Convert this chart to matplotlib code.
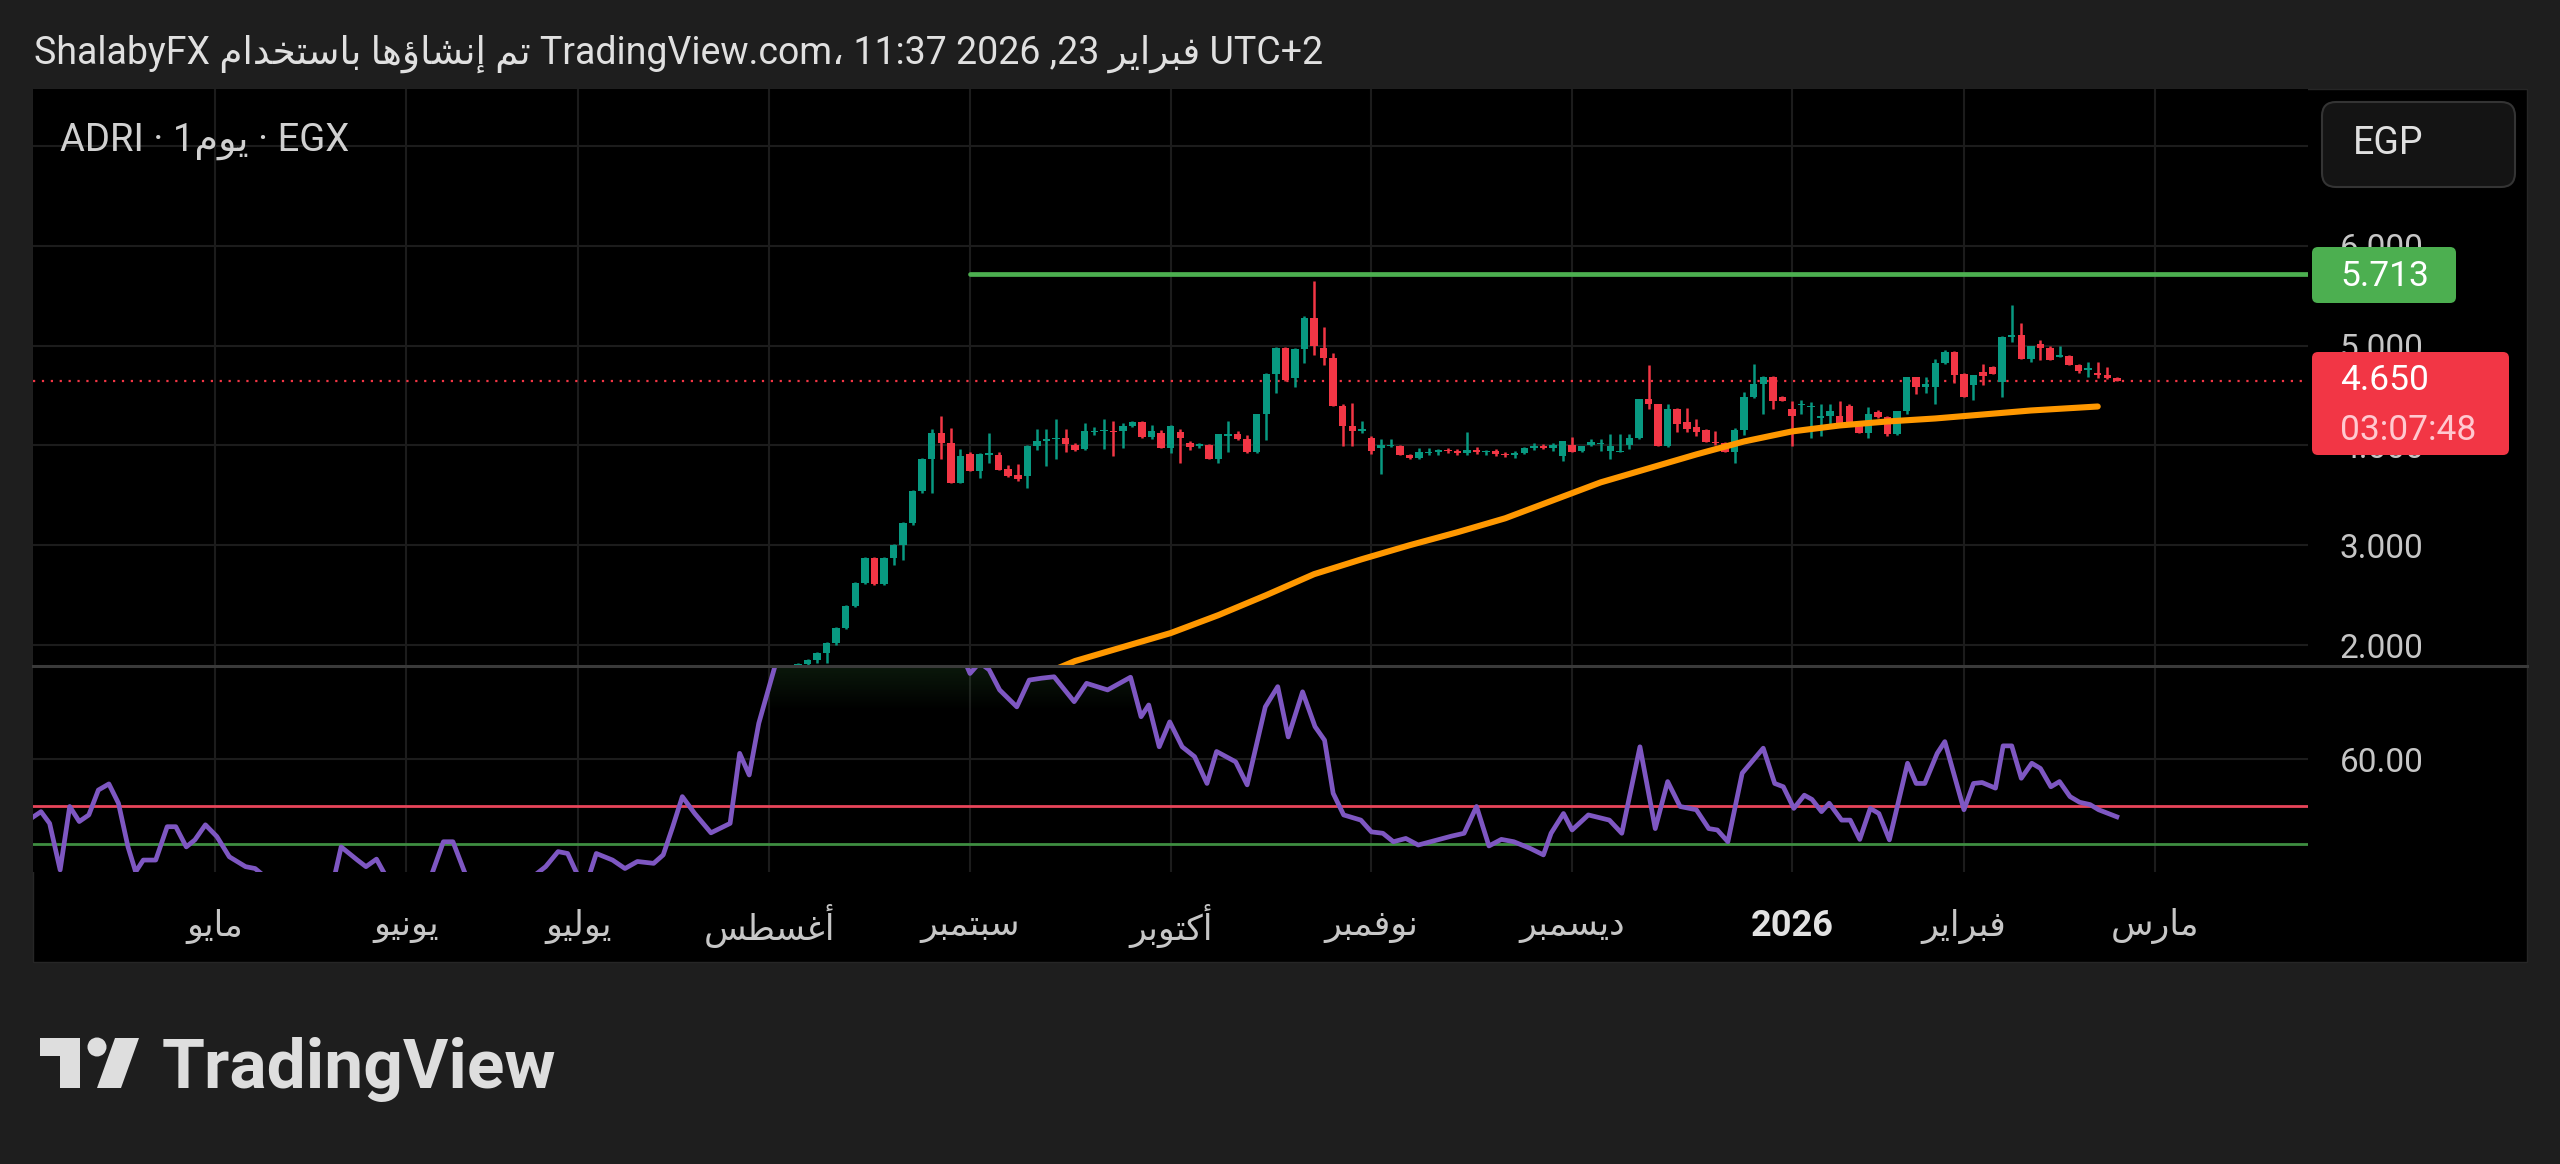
"""ADRI daily chart (EGX) with RSI pane, TradingView dark style."""

import matplotlib

matplotlib.use("Agg")
import matplotlib.pyplot as plt
import numpy as np
from matplotlib.colors import to_rgb
from matplotlib.lines import Line2D
from matplotlib.patches import Circle, FancyBboxPatch, Polygon, Rectangle
from matplotlib.transforms import Affine2D

W, H = 2560, 1164

# x axis is the bar index: 0 = first EGX session of May 2025
month_idx = [0, 20, 38, 58, 79, 100, 121, 142, 165, 183, 203]
month_names = ["مايو", "يونيو", "يوليو", "أغسطس", "سبتمبر", "أكتوبر",
               "نوفمبر", "ديسمبر", "2026", "فبراير", "مارس"]

candle_first_idx = 60
opens = [1.70, 1.75, 1.81, 1.85, 1.92, 2.02, 2.17, 2.39, 2.62, 2.87,
         2.61, 2.87, 3.00, 3.22, 3.54, 3.86, 4.12, 4.02, 3.62, 3.91,
         3.74, 3.90, 3.90, 3.76, 3.70, 3.69, 3.99, 4.04, 4.06, 4.07,
         4.00, 3.96, 4.13, 4.14, 4.14, 4.14, 4.19, 4.23, 4.08, 4.12,
         3.97, 4.13, 4.02, 3.99, 4.00, 3.86, 4.09, 4.11, 4.06, 3.93,
         4.31, 4.72, 4.98, 4.68, 4.97, 5.28, 4.98, 4.88, 4.39, 4.19,
         4.14, 4.07, 3.97, 3.99, 3.99, 3.90, 3.87, 3.92, 3.93, 3.95,
         3.94, 3.92, 3.95, 3.93, 3.94, 3.91, 3.90, 3.92, 3.97, 3.99,
         3.97, 3.89, 4.00, 3.94, 4.00, 4.01, 3.94, 3.93, 4.00, 4.07,
         4.47, 4.41, 3.99, 4.36, 4.23, 4.18, 4.15, 4.03, 4.02, 3.93,
         4.15, 4.49, 4.62, 4.69, 4.49, 4.36, 4.40, 4.38, 4.27, 4.29,
         4.29, 4.39, 4.23, 4.12, 4.33, 4.28, 4.11, 4.34, 4.69, 4.59,
         4.59, 4.83, 4.94, 4.72, 4.61, 4.74, 4.79, 4.64, 5.09, 5.11,
         4.87, 5.02, 4.98, 4.89, 4.90, 4.81, 4.76, 4.73, 4.71, 4.68]
highs = [1.76, 1.82, 1.86, 1.93, 2.03, 2.18, 2.40, 2.63, 2.88, 2.88,
         2.88, 3.01, 3.23, 3.55, 3.87, 4.16, 4.29, 4.17, 3.96, 3.93,
         3.92, 4.12, 3.93, 3.80, 3.81, 4.00, 4.16, 4.16, 4.26, 4.16,
         4.02, 4.22, 4.18, 4.26, 4.24, 4.22, 4.24, 4.24, 4.20, 4.15,
         4.20, 4.16, 4.04, 4.02, 4.01, 4.11, 4.24, 4.14, 4.10, 4.31,
         4.73, 4.99, 4.99, 4.98, 5.30, 5.65, 5.19, 4.93, 4.42, 4.43,
         4.24, 4.09, 4.06, 4.06, 4.00, 3.91, 3.97, 3.97, 3.96, 3.97,
         3.96, 4.13, 3.98, 3.95, 3.96, 3.93, 3.94, 3.98, 4.02, 4.01,
         4.02, 4.04, 4.08, 3.99, 4.06, 4.06, 4.11, 4.11, 4.11, 4.47,
         4.81, 4.42, 4.41, 4.37, 4.37, 4.26, 4.16, 4.14, 4.03, 4.17,
         4.54, 4.82, 4.70, 4.70, 4.50, 4.45, 4.46, 4.44, 4.41, 4.41,
         4.45, 4.41, 4.24, 4.38, 4.35, 4.29, 4.34, 4.69, 4.69, 4.69,
         4.87, 4.96, 4.95, 4.73, 4.71, 4.82, 4.80, 5.10, 5.41, 5.23,
         5.00, 5.06, 5.00, 5.00, 4.91, 4.82, 4.84, 4.84, 4.79, 4.69]
lows = [1.68, 1.74, 1.79, 1.82, 1.82, 2.00, 2.16, 2.38, 2.61, 2.60,
        2.60, 2.80, 2.85, 3.20, 3.52, 3.52, 3.86, 3.62, 3.62, 3.74,
        3.67, 3.82, 3.75, 3.68, 3.64, 3.57, 3.95, 3.79, 3.86, 3.93,
        3.94, 3.95, 4.10, 3.96, 3.89, 3.97, 4.18, 4.07, 4.06, 3.97,
        3.92, 3.82, 3.95, 3.97, 3.86, 3.82, 3.93, 4.05, 3.92, 3.92,
        4.05, 4.53, 4.65, 4.59, 4.83, 4.91, 4.81, 4.39, 3.99, 3.99,
        4.12, 3.91, 3.71, 3.98, 3.90, 3.86, 3.86, 3.90, 3.90, 3.92,
        3.90, 3.90, 3.91, 3.90, 3.89, 3.88, 3.87, 3.91, 3.95, 3.96,
        3.94, 3.84, 3.93, 3.93, 3.99, 3.94, 3.86, 3.93, 3.96, 4.06,
        4.36, 3.99, 3.98, 4.13, 4.13, 4.09, 4.03, 4.00, 3.93, 3.82,
        4.10, 4.48, 4.31, 4.36, 4.45, 3.99, 4.31, 4.07, 4.09, 4.18,
        4.21, 4.19, 4.12, 4.07, 4.27, 4.09, 4.10, 4.31, 4.52, 4.53,
        4.41, 4.82, 4.63, 4.49, 4.46, 4.61, 4.72, 4.49, 5.04, 4.87,
        4.84, 4.86, 4.86, 4.89, 4.81, 4.73, 4.69, 4.68, 4.67, 4.65]
closes = [1.75, 1.81, 1.85, 1.92, 2.02, 2.17, 2.39, 2.62, 2.87, 2.61,
          2.87, 3.00, 3.22, 3.54, 3.86, 4.12, 4.02, 3.62, 3.89, 3.74,
          3.91, 3.92, 3.75, 3.69, 3.66, 3.99, 4.04, 4.06, 4.07, 4.01,
          3.95, 4.14, 4.14, 4.15, 4.13, 4.19, 4.23, 4.08, 4.14, 3.97,
          4.19, 4.07, 3.98, 4.01, 3.86, 4.11, 4.11, 4.06, 3.93, 4.31,
          4.72, 4.98, 4.66, 4.97, 5.28, 5.00, 4.88, 4.39, 4.19, 4.14,
          4.16, 3.94, 4.00, 4.00, 3.90, 3.87, 3.93, 3.93, 3.95, 3.94,
          3.92, 3.95, 3.93, 3.94, 3.91, 3.90, 3.92, 3.97, 3.99, 3.97,
          4.00, 4.04, 3.93, 3.99, 4.03, 4.01, 3.99, 3.94, 4.07, 4.47,
          4.41, 3.99, 4.36, 4.21, 4.16, 4.13, 4.03, 4.02, 3.93, 4.15,
          4.49, 4.62, 4.69, 4.45, 4.45, 4.29, 4.41, 4.39, 4.29, 4.34,
          4.21, 4.21, 4.12, 4.31, 4.28, 4.11, 4.34, 4.69, 4.59, 4.62,
          4.83, 4.94, 4.71, 4.49, 4.71, 4.70, 4.72, 5.09, 5.10, 4.87,
          5.00, 4.98, 4.86, 4.91, 4.81, 4.75, 4.76, 4.71, 4.68, 4.65]

# moving average, read at irregular bars
ma_idx = [88, 90, 95, 100, 105, 110, 115, 120, 125, 130, 135, 140,
          145, 150, 155, 160, 165, 170, 175, 180, 185, 190, 197]
ma_val = [1.76, 1.84, 1.98, 2.12, 2.30, 2.50, 2.71, 2.86, 3.00, 3.13, 3.27, 3.45,
          3.63, 3.77, 3.91, 4.04, 4.14, 4.20, 4.24, 4.27, 4.31, 4.35, 4.39]

rsi_idx = [-19.0, -18.2, -17.3, -16.2, -15.2, -14.2, -13.2, -12.2, -11.1, -10.1,
           -9.1, -8.3, -7.5, -6.2, -5.0, -4.1, -3.0, -2.1, -1.0, 0.2,
           1.5, 3.2, 4.2, 5.5, 8.0, 11.0, 12.5, 13.2, 14.9, 15.8,
           16.9, 17.9, 20.0, 22.6, 23.9, 24.9, 26.2, 28.0, 32.0, 33.6,
           34.6, 35.9, 36.9, 37.9, 38.7, 39.2, 39.9, 41.6, 42.9, 44.2,
           45.9, 46.9, 47.9, 48.9, 50.2, 51.9, 53.9, 54.9, 55.9, 56.9,
           58.6, 60.0, 65.0, 70.0, 75.0, 78.2, 79.0, 80.0, 81.0, 82.1,
           83.9, 85.2, 86.5, 87.8, 89.9, 91.2, 93.4, 95.8, 96.9, 97.7,
           98.8, 99.9, 101.2, 102.5, 103.8, 104.8, 106.8, 108.0, 109.9, 111.2,
           112.3, 113.8, 115.1, 116.1, 117.0, 118.1, 119.9, 121.0, 122.2, 123.3,
           124.6, 125.9, 127.2, 129.4, 130.7, 132.0, 133.3, 134.6, 135.9, 137.6,
           139.0, 139.8, 141.1, 142.0, 143.7, 145.9, 147.2, 149.1, 150.7, 152.0,
           153.3, 155.0, 156.3, 157.2, 158.3, 159.8, 162.0, 163.2, 164.1, 165.2,
           166.3, 167.1, 168.1, 168.9, 170.2, 171.1, 172.1, 173.2, 174.1, 175.2,
           177.1, 178.0, 178.9, 180.2, 181.0, 183.0, 184.0, 184.9, 186.3, 187.1,
           188.0, 189.0, 190.1, 191.0, 192.1, 193.0, 194.1, 195.1, 196.2, 197.1,
           199.0]
rsi_val = [47.7, 48.8, 46.3, 36.4, 49.9, 46.7, 48.1, 53.4, 54.7, 50.6,
           41.3, 36.0, 38.5, 38.5, 45.6, 45.6, 41.3, 42.8, 46.0, 43.5,
           39.2, 37.1, 36.7, 34.5, 31.0, 32.0, 35.0, 41.3, 38.5, 37.1,
           38.7, 35.0, 31.0, 35.0, 42.4, 42.4, 35.5, 32.0, 33.0, 35.5,
           37.1, 40.3, 39.9, 35.5, 34.0, 35.5, 39.9, 38.5, 36.7, 38.2,
           37.8, 39.6, 45.6, 52.0, 48.4, 44.3, 46.3, 61.2, 56.6, 67.6,
           79.8, 86.0, 90.0, 91.0, 88.0, 82.0, 78.2, 80.5, 79.0, 74.7,
           71.1, 76.8, 77.2, 77.5, 72.2, 76.1, 74.7, 77.4, 69.0, 71.5,
           62.6, 67.9, 62.6, 60.5, 54.8, 61.6, 59.4, 54.5, 71.1, 75.4,
           64.7, 74.3, 66.9, 64.0, 52.7, 48.1, 47.0, 44.5, 44.2, 42.4,
           43.1, 41.7, 42.4, 43.6, 44.2, 49.9, 41.5, 42.9, 42.4, 41.0,
           39.6, 44.2, 48.4, 44.9, 48.1, 47.0, 44.2, 62.6, 45.2, 55.2,
           49.9, 49.2, 45.2, 44.9, 42.4, 57.0, 62.3, 54.8, 54.1, 49.5,
           52.3, 51.4, 48.8, 50.6, 47.0, 47.0, 42.9, 49.5, 48.4, 42.8,
           59.1, 54.8, 54.8, 61.2, 63.7, 49.2, 54.8, 55.0, 53.8, 62.8,
           62.8, 55.9, 59.1, 58.0, 54.1, 55.2, 52.0, 50.8, 50.3, 49.2,
           47.7]

price_ticks = [2, 3, 4, 5, 6, 7]
price_tick_labels = ["2.000", "3.000", "4.000", "5.000", "6.000", ""]
rsi_ticks = [60]
rsi_tick_labels = ["60.00"]

level_price = 5.713
level_start_idx = 79
last_price = 4.650
countdown = "03:07:48"
rsi_upper = 50
rsi_lower = 42

UP, DOWN = "#089981", "#F23645"
GRID = "#1c1c1c"
AXIS_TXT = "#c6c6c6"

AR_FORMS = {
    "ء": (0xFE80, 0), "آ": (0xFE81, 1), "أ": (0xFE83, 1), "ؤ": (0xFE85, 1),
    "إ": (0xFE87, 1), "ئ": (0xFE89, 2), "ا": (0xFE8D, 1), "ب": (0xFE8F, 2),
    "ة": (0xFE93, 1), "ت": (0xFE95, 2), "ث": (0xFE99, 2), "ج": (0xFE9D, 2),
    "ح": (0xFEA1, 2), "خ": (0xFEA5, 2), "د": (0xFEA9, 1), "ذ": (0xFEAB, 1),
    "ر": (0xFEAD, 1), "ز": (0xFEAF, 1), "س": (0xFEB1, 2), "ش": (0xFEB5, 2),
    "ص": (0xFEB9, 2), "ض": (0xFEBD, 2), "ط": (0xFEC1, 2), "ظ": (0xFEC5, 2),
    "ع": (0xFEC9, 2), "غ": (0xFECD, 2), "ف": (0xFED1, 2), "ق": (0xFED5, 2),
    "ك": (0xFED9, 2), "ل": (0xFEDD, 2), "م": (0xFEE1, 2), "ن": (0xFEE5, 2),
    "ه": (0xFEE9, 2), "و": (0xFEED, 1), "ى": (0xFEEF, 1), "ي": (0xFEF1, 2),
}


def ar(text: str) -> str:
    """Join Arabic letters into presentation forms, return in visual order."""
    if not any(ch in AR_FORMS for ch in text):
        return text
    out = []
    for i, ch in enumerate(text):
        if ch not in AR_FORMS:
            out.append(ch)
            continue
        base, kind = AR_FORMS[ch]
        prev = text[i - 1] if i > 0 else ""
        nxt = text[i + 1] if i + 1 < len(text) else ""
        join_prev = kind > 0 and prev in AR_FORMS and AR_FORMS[prev][1] == 2
        join_next = kind == 2 and nxt in AR_FORMS and AR_FORMS[nxt][1] > 0
        if kind == 0:
            out.append(chr(base))
        elif join_prev and join_next:
            out.append(chr(base + 3))
        elif join_prev:
            out.append(chr(base + 1))
        elif join_next:
            out.append(chr(base + 2))
        else:
            out.append(chr(base))
    return "".join(reversed(out))


plt.rcParams["font.family"] = ["Roboto", "DejaVu Sans"]

fig = plt.figure(figsize=(W / 100, H / 100), dpi=100, facecolor="#1e1e1e")
# pixel coordinates, origin at top-left
PX = Affine2D().scale(1.0 / W, -1.0 / H).translate(0, 1) + fig.transFigure

fig.add_artist(Rectangle((33, 89), 2494, 873, transform=PX, facecolor="black",
                         edgecolor="#262626", lw=1.0, zorder=-1))

ax_p = fig.add_axes([33 / W, 1 - 666 / H, (2308 - 33) / W, (666 - 89) / H])
ax_r = fig.add_axes([33 / W, 1 - 872 / H, (2308 - 33) / W, (872 - 666) / H])
xlim = (-19.04, 219.0)

for ax in (ax_p, ax_r):
    ax.set_facecolor("black")
    for sp in ax.spines.values():
        sp.set_visible(False)
    ax.grid(True, color=GRID, lw=1.5)
    ax.set_axisbelow(True)
    ax.yaxis.tick_right()
    ax.set_xticks(month_idx)

# candles
idx = np.arange(candle_first_idx, candle_first_idx + len(opens))
o, hi, lo, c = (np.array(a) for a in (opens, highs, lows, closes))
cols = np.where(c >= o, UP, DOWN)
ax_p.vlines(idx, lo, hi, colors=cols, lw=1.8, zorder=3)
ax_p.bar(idx, np.maximum(np.abs(c - o), 0.014), bottom=np.minimum(o, c),
         width=0.78, color=cols, lw=0, zorder=4)

ax_p.plot(ma_idx, ma_val, color="#FF9800", lw=4.4, solid_capstyle="round", zorder=5)
ax_p.plot([level_start_idx, xlim[1]], [level_price, level_price], color="#4CAF50",
          lw=3.4, solid_capstyle="round", zorder=5)
ax_p.axhline(last_price, color=DOWN, lw=1.6, ls=(0, (1, 3)), zorder=2)

ax_p.set_xlim(xlim)
ax_p.set_ylim(1.79, 7.571)
ax_p.set_yticks(price_ticks, price_tick_labels)
ax_p.tick_params(axis="y", length=0, pad=23, labelsize=24, labelcolor=AXIS_TXT)
ax_p.tick_params(axis="x", length=0, labelbottom=False)

# RSI pane
rx, ry = np.array(rsi_idx), np.array(rsi_val)
fill = ax_r.fill_between(rx, 70, np.maximum(ry, 70), color="none", lw=0)
grad = np.zeros((64, 2, 4))
grad[..., :3] = to_rgb("#4CAF50")
grad[..., 3] = np.linspace(0, 0.45, 64)[:, None]
im = ax_r.imshow(grad, extent=(rx.min(), rx.max(), 70, 100), origin="lower",
                 aspect="auto", interpolation="bilinear", zorder=1)
im.set_clip_path(fill.get_paths()[0], transform=ax_r.transData)

ax_r.axhline(rsi_upper, color="#E8455A", lw=2.0, zorder=2)
ax_r.axhline(rsi_lower, color="#3E8E41", lw=2.0, zorder=2)
ax_r.plot(rx, ry, color="#7E57C2", lw=3.4, zorder=3)

ax_r.set_xlim(xlim)
ax_r.set_ylim(35.96, 79.79)
ax_r.set_yticks(rsi_ticks, rsi_tick_labels)
ax_r.tick_params(axis="y", length=0, pad=23, labelsize=24, labelcolor=AXIS_TXT)
ax_r.set_xticks(month_idx, [ar(m) for m in month_names])
ax_r.tick_params(axis="x", length=0, pad=39, labelsize=25, labelcolor=AXIS_TXT)
for lbl in ax_r.get_xticklabels():
    lbl.set_va("center")
    if lbl.get_text() == "2026":
        lbl.set_fontweight("bold")
        lbl.set_fontsize(26)
        lbl.set_color("#e2e2e2")

fig.add_artist(Line2D([33, 2527], [666, 666], transform=PX, color="#3a3a3a", lw=2.2))

# price-scale badges
fig.add_artist(FancyBboxPatch((2322, 102), 193, 85, boxstyle="round,pad=0,rounding_size=14",
                              transform=PX, facecolor="#141414", edgecolor="#343434", lw=1.5))
fig.text(2353, 144, "EGP", transform=PX, fontsize=27, color="#e0e0e0", va="center")

fig.add_artist(FancyBboxPatch((2312, 247), 144, 56, boxstyle="round,pad=0,rounding_size=6",
                              transform=PX, facecolor="#4CAF50", lw=0))
fig.text(2340, 276, f"{level_price:.3f}", transform=PX, fontsize=25.5, color="white", va="center")

fig.add_artist(FancyBboxPatch((2312, 352), 197, 103, boxstyle="round,pad=0,rounding_size=6",
                              transform=PX, facecolor=DOWN, lw=0))
fig.text(2340, 381, f"{last_price:.3f}", transform=PX, fontsize=25.5, color="white", va="center")
fig.text(2340, 430, countdown, transform=PX, fontsize=25.5, color="#ffc9d0", va="center")

# header texts
title = ("ShalabyFX " + ar("تم إنشاؤها باستخدام") + " TradingView.com، 11:37 2026 ,23 "
         + ar("فبراير") + " UTC+2")
fig.text(34, 54, title, transform=PX, fontsize=27, color="#e0e0e0", va="center")
fig.text(60, 141, "ADRI · 1" + ar("يوم") + " · EGX", transform=PX, fontsize=27.5,
         color="#d0d0d0", va="center")

# footer logo
LOGO = "#dedede"
fig.add_artist(Polygon([(40, 1038), (80, 1038), (80, 1088), (60, 1088), (60, 1056), (40, 1056)],
                       closed=True, transform=PX, facecolor=LOGO, lw=0))
fig.add_artist(Circle((97, 1047), 9.5, transform=PX, facecolor=LOGO, lw=0))
fig.add_artist(Polygon([(115, 1038), (139, 1038), (121, 1088), (97, 1088)],
                       closed=True, transform=PX, facecolor=LOGO, lw=0))
fig.text(162, 1088, "TradingView", transform=PX, fontsize=50, fontweight="bold",
         color=LOGO, va="baseline")

fig.savefig("out.png", dpi=100, facecolor=fig.get_facecolor())
